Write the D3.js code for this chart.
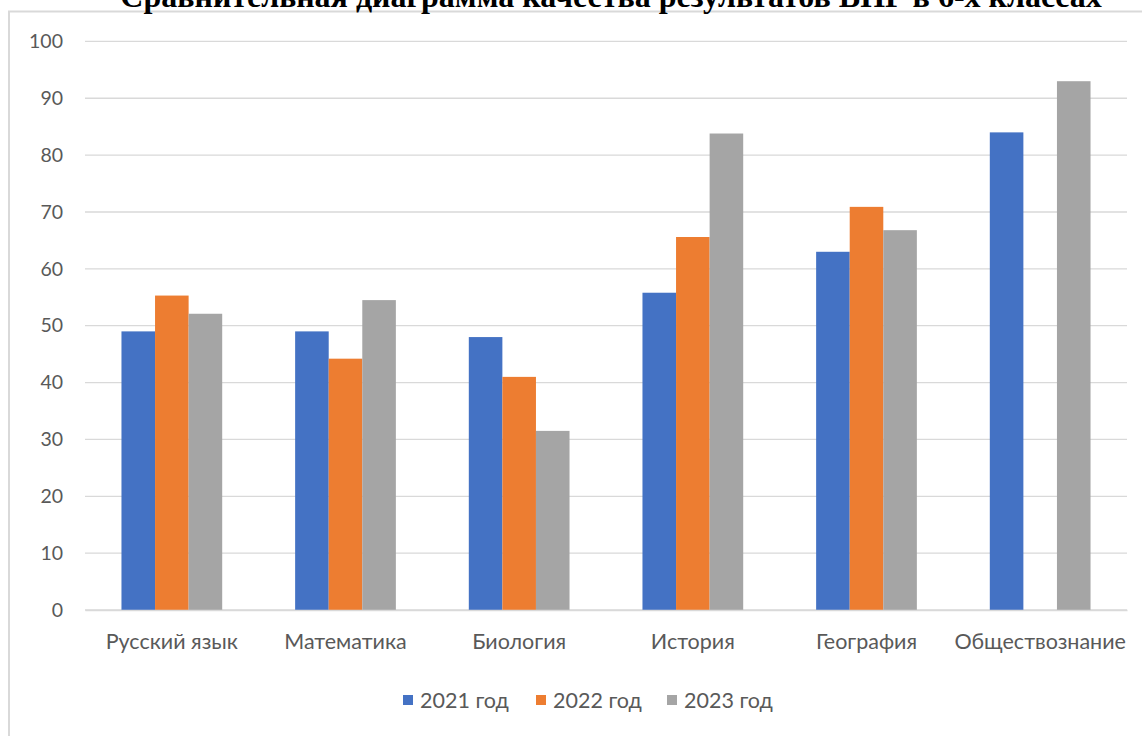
<!DOCTYPE html>
<html><head><meta charset="utf-8">
<script src="https://cdn.jsdelivr.net/npm/d3@7"></script>
<style>html,body{margin:0;padding:0;background:#fff;}svg{display:block;}</style>
</head><body>
<svg id="c" width="1142" height="736"></svg>
<script>
const categories = ["Русский язык","Математика","Биология","История","География","Обществознание"];
const seriesNames = ["2021 год","2022 год","2023 год"];
const v2021 = [49, 49, 48, 55.8, 63, 84];
const v2022 = [55.3, 44.2, 41, 65.6, 70.9, null];
const v2023 = [52.1, 54.5, 31.5, 83.8, 66.8, 93];
const yTicks = [0,10,20,30,40,50,60,70,80,90,100];
const colors = ["#4472c4","#ed7d31","#a5a5a5"];
const title = "Сравнительная диаграмма качества результатов ВПР в 6-х классах";

const series = [v2021, v2022, v2023];
const svg = d3.select("#c");
const W = 1142, H = 736;
const m = {left: 85, right: 1127, top: 41.4, bottom: 610};

svg.append("rect").attr("x",9).attr("y",11.5).attr("width",W+20).attr("height",H+20)
  .attr("fill","#fff").attr("stroke","#d9d9d9").attr("stroke-width",2);

svg.append("text").attr("x",611).attr("y",7).attr("text-anchor","middle")
  .attr("font-family","Liberation Serif").attr("font-weight","bold").attr("font-size",32)
  .attr("fill","#000").text(title);

const x = d3.scaleBand().domain(categories).range([m.left, m.right]).paddingInner(0.42).paddingOuter(0.21);
const xs = d3.scaleBand().domain(d3.range(3)).range([0, x.bandwidth()]);
const y = d3.scaleLinear().domain([0,100]).range([m.bottom, m.top]);

const grid = svg.append("g");
grid.selectAll("line").data(yTicks).join("line")
  .attr("x1", m.left).attr("x2", m.right)
  .attr("y1", d=>y(d)).attr("y2", d=>y(d))
  .attr("stroke","#d9d9d9").attr("stroke-width",1.3);

const yAxis = svg.append("g").attr("transform",`translate(${m.left},0)`)
  .call(d3.axisLeft(y).tickValues(yTicks).tickSize(0).tickPadding(22));
yAxis.select(".domain").remove();
yAxis.selectAll("text").attr("font-family","Lato").attr("font-size",19.5).attr("fill","#595959");

const groups = svg.append("g").selectAll("g").data(categories).join("g")
  .attr("transform", d=>`translate(${x(d)},0)`);
groups.selectAll("rect").data((d,i)=>series.map((s,k)=>({k, v:s[i]})).filter(o=>o.v!=null)).join("rect")
  .attr("x", o=>xs(o.k)).attr("width", xs.bandwidth())
  .attr("y", o=>y(o.v)).attr("height", o=>y(0)-y(o.v))
  .attr("fill", o=>colors[o.k]);

const xAxis = svg.append("g").attr("transform",`translate(0,${m.bottom})`)
  .call(d3.axisBottom(x).tickSize(0).tickPadding(24));
xAxis.select(".domain").attr("stroke","#d9d9d9").attr("stroke-width",1.3);
xAxis.selectAll("text").attr("font-family","Lato").attr("font-size",21.5).attr("fill","#595959");

const legX = [403, 536, 667];
const leg = svg.append("g").selectAll("g").data(seriesNames).join("g")
  .attr("transform",(d,i)=>`translate(${legX[i]},700)`);
leg.append("rect").attr("x",0).attr("y",-5).attr("width",10).attr("height",10).attr("fill",(d,i)=>colors[i]);
leg.append("text").attr("x",17).attr("y",0).attr("dy","0.35em")
  .attr("font-family","Lato").attr("font-size",21.5).attr("fill","#595959").text(d=>d);
</script>
</body></html>
